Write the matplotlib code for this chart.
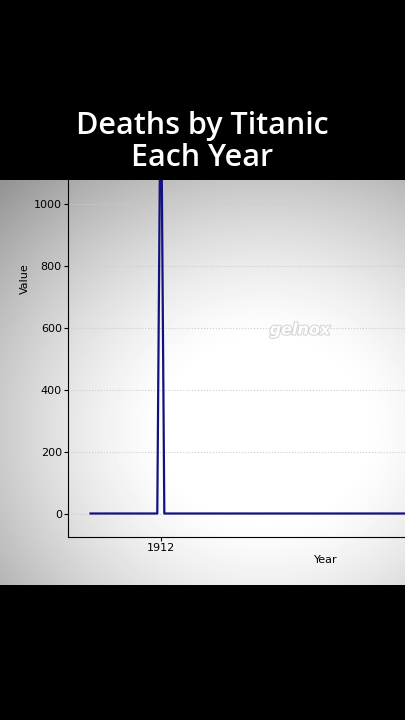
from matplotlib import pyplot as plt
from matplotlib import patheffects as pe
import numpy as np

# data
years = list(range(1892, 2026))
deaths = [1517 if y == 1912 else 0 for y in years]
y_ticks = [0, 200, 400, 600, 800, 1000]
x_ticks = [1912]

W, H = 405, 720
fig = plt.figure(figsize=(W / 100, H / 100), dpi=100)
fig.patch.set_facecolor('black')

# grey vignette panel behind the chart
panel_top, panel_bot = 180, 585
bg = fig.add_axes([0, 1 - panel_bot / H, 1, (panel_bot - panel_top) / H], zorder=0)
xx, yy = np.meshgrid(np.arange(W), np.arange(panel_top, panel_bot))
r = np.sqrt(((xx - 265) / 320) ** 2 + ((yy - 430) / 290) ** 2)
shade = 1 - 0.5 * np.clip(r - 0.3, 0, None) ** 1.4
bg.imshow(shade, cmap='gray', vmin=0, vmax=1, aspect='auto')
bg.axis('off')

# the chart (wider/taller than the frame, cropped like the video)
ax = fig.add_axes([68 / W, 1 - 537 / H, 516 / W, 517 / H], zorder=1)
ax.patch.set_alpha(0)
ax.plot(years, deaths, color='#12127e', lw=1.6)
ax.set_xlim(1885.6, 2032.4)
ax.set_yticks(y_ticks)
ax.set_xticks(x_ticks)
ax.tick_params(labelsize=8, length=3, width=0.8, pad=1.5)
ax.grid(axis='y', color='#cccccc', linestyle=':', lw=0.8)
for s in ['top', 'right']:
    ax.spines[s].set_visible(False)
ax.set_xlabel('Year', fontsize=8, labelpad=1)
ax.set_ylabel('Value', fontsize=8, labelpad=3)

# black strip on top hides the cropped part
cover = fig.add_axes([0, 1 - panel_top / H, 1, panel_top / H], zorder=2)
cover.set_facecolor('black')
cover.set_xticks([])
cover.set_yticks([])
for s in cover.spines.values():
    s.set_visible(False)

fig.text(0.5, 1 - 142 / H, 'Deaths by Titanic\nEach Year', color='white',
         fontsize=22, fontweight='semibold', family='Open Sans',
         ha='center', va='center', linespacing=1.08, zorder=3)

fig.text(300 / W, 1 - 330 / H, 'gelnox', color='white', fontsize=11.5,
         fontweight='bold', style='italic', ha='center', va='center', zorder=3,
         path_effects=[pe.withStroke(linewidth=1.5, foreground='#d4d4d4')])

plt.savefig('out.png', dpi=100, facecolor='black')
